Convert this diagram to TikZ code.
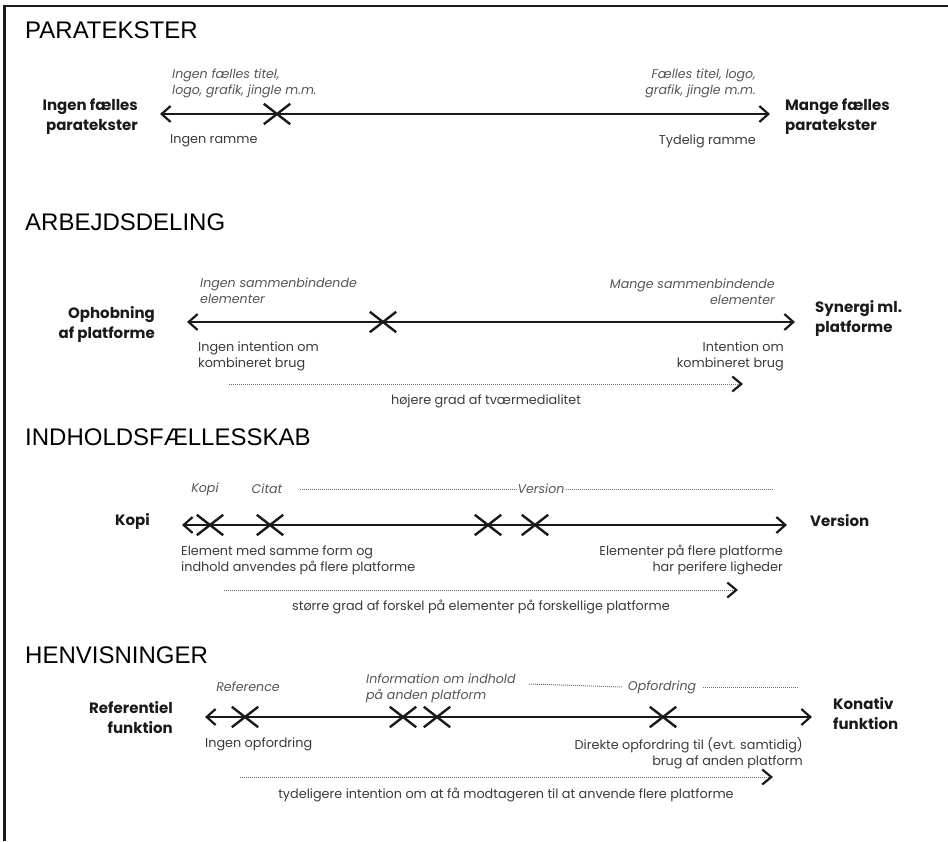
\documentclass[tikz,border=0pt]{standalone}
\usepackage{fontspec}
\setmainfont{Poppins}
\newfontfamily\overskrift{Liberation Sans}
\usetikzlibrary{arrows.meta, shapes.misc, positioning}
\definecolor{Sort}{HTML}{1A1A1A}
\definecolor{Tekst}{HTML}{3A3A3A}
\definecolor{Kursiv}{HTML}{555555}
\definecolor{Prik}{HTML}{707070}

\tikzset{
  titel/.style={anchor=west, inner sep=0pt, text=black,
    font=\overskrift\fontsize{24}{26}\selectfont},
  pol/.style={inner sep=0pt, text=Sort,
    font=\bfseries\fontsize{15}{20}\selectfont},
  polV/.style={pol, anchor=east, align=right},
  polH/.style={pol, anchor=west, align=left},
  note/.style={inner sep=0pt, text=Kursiv,
    font=\itshape\fontsize{12.6}{16}\selectfont},
  noteV/.style={note, anchor=west, align=left},
  noteH/.style={note, anchor=east, align=right},
  under/.style={inner sep=0pt, text=Tekst,
    font=\fontsize{12.8}{15.8}\selectfont},
  underV/.style={under, anchor=west, align=left},
  underH/.style={under, anchor=east, align=right},
  akse/.style={Sort, line width=1.8pt,
    {Straight Barb[length=9pt, width=16pt, line width=2.2pt]}-{Straight Barb[length=9pt, width=16pt, line width=2.2pt]}},
  grad/.style={Prik, line width=1pt, dash pattern=on 1pt off 1pt,
    -{Straight Barb[length=9pt, width=15pt, line width=2.2pt, color=Sort]}},
  prik/.style={Prik, line width=1pt, dash pattern=on 1pt off 1pt},
  kryds/.style={cross out, draw=Sort, line width=2.4pt, inner sep=0pt,
    minimum width=24pt, minimum height=18pt}
}

\begin{document}
\begin{tikzpicture}[x=1pt, y=-1pt]
\useasboundingbox (0,0) rectangle (948,841);
\draw[Sort, line width=2.4pt] (4.5,841) -- (4.5,6) -- (948,6);

% paratekster
\node[titel] (P-titel) at (25,30) {PARATEKSTER};
\coordinate (P-v) at (160,114);
\coordinate (P-h) at (770,114);
\draw[akse] (P-v) -- (P-h);
\node[kryds] (P-k1) at (277,114) {};
\node[polV] (P-venstre) at (138,117) {Ingen fælles\\paratekster};
\node[polH] (P-hoejre) at (785,117) {Mange fælles\\paratekster};
\node[noteV] (P-noteV) at (172,83) {Ingen fælles titel,\\logo, grafik, jingle m.m.};
\node[noteH] (P-noteH) at (756,83) {Fælles titel, logo,\\grafik, jingle m.m.};
\node[underV] (P-underV) at (170,141) {Ingen ramme};
\node[underH] (P-underH) at (756,141) {Tydelig ramme};

% arbejdsdeling
\node[titel] (A-titel) at (25,222) {ARBEJDSDELING};
\coordinate (A-v) at (187,322);
\coordinate (A-h) at (795,322);
\draw[akse] (A-v) -- (A-h);
\node[kryds] (A-k1) at (383,322) {};
\node[polV] (A-venstre) at (155,324) {Ophobning\\af platforme};
\node[polH] (A-hoejre) at (815,318) {Synergi ml.\\platforme};
\node[noteV] (A-noteV) at (200,291) {Ingen sammenbindende\\elementer};
\node[noteH] (A-noteH) at (775,292) {Mange sammenbindende\\elementer};
\node[underV] (A-underV) at (198,356) {Ingen intention om\\kombineret brug};
\node[underH] (A-underH) at (784,356) {Intention om\\kombineret brug};
\coordinate (A-g1) at (229,384);
\coordinate (A-g2) at (743,384);
\draw[grad] (A-g1) -- (A-g2);
\node[under] (A-grad) at (486,401) {højere grad af tværmedialitet};

% indholdsfaellesskab
\node[titel] (I-titel) at (25,437) {INDHOLDSFÆLLESSKAB};
\coordinate (I-v) at (182,525);
\coordinate (I-h) at (787,525);
\draw[akse] (I-v) -- (I-h);
\node[kryds] (I-k1) at (210,525) {};
\node[kryds] (I-k2) at (270,525) {};
\node[kryds] (I-k3) at (488,525) {};
\node[kryds] (I-k4) at (535,525) {};
\node[polV] (I-venstre) at (150,521) {Kopi};
\node[polH] (I-hoejre) at (810,521) {Version};
\node[note] (I-kopi) at (205,489) {Kopi};
\node[note] (I-citat) at (267,489) {Citat};
\node[note] (I-version) at (541,489) {Version};
\coordinate (I-p1) at (300,489);
\coordinate (I-slut) at (773,489);
\draw[prik] (I-p1) -- ([xshift=-1pt]I-version.west);
\draw[prik] ([xshift=1pt]I-version.east) -- (I-slut);
\node[underV] (I-underV) at (181,560) {Element med samme form og\\indhold anvendes på flere platforme};
\node[underH] (I-underH) at (783,560) {Elementer på flere platforme\\har perifere ligheder};
\coordinate (I-g1) at (224,590);
\coordinate (I-g2) at (738,590);
\draw[grad] (I-g1) -- (I-g2);
\node[under] (I-grad) at (481,607) {større grad af forskel på elementer på forskellige platforme};

% henvisninger
\node[titel] (H-titel) at (25,655) {HENVISNINGER};
\coordinate (H-v) at (205,717);
\coordinate (H-h) at (812,717);
\draw[akse] (H-v) -- (H-h);
\node[kryds] (H-k1) at (245,717) {};
\node[kryds] (H-k2) at (403,717) {};
\node[kryds] (H-k3) at (437,717) {};
\node[kryds] (H-k4) at (663,717) {};
\node[polV] (H-venstre) at (173,718) {Referentiel\\funktion};
\node[polH] (H-hoejre) at (833,714) {Konativ\\funktion};
\node[note] (H-ref) at (248,687) {Reference};
\node[noteV] (H-info) at (366,688) {Information om indhold\\på anden platform};
\node[note] (H-opf) at (662,687) {Opfordring};
\coordinate (H-p1) at (529,684);
\coordinate (H-slut) at (798,687);
\draw[prik] (H-p1) -- ([xshift=-5pt]H-opf.west);
\draw[prik] ([xshift=7pt]H-opf.east) -- (H-slut);
\node[underV] (H-underV) at (205,744) {Ingen opfordring};
\node[underH] (H-underH) at (803,753) {Direkte opfordring til (evt. samtidig)\\brug af anden platform};
\coordinate (H-g1) at (240,777);
\coordinate (H-g2) at (773,777);
\draw[grad] (H-g1) -- (H-g2);
\node[under] (H-grad) at (506,795) {tydeligere intention om at få modtageren til at anvende flere platforme};
\end{tikzpicture}
\end{document}
